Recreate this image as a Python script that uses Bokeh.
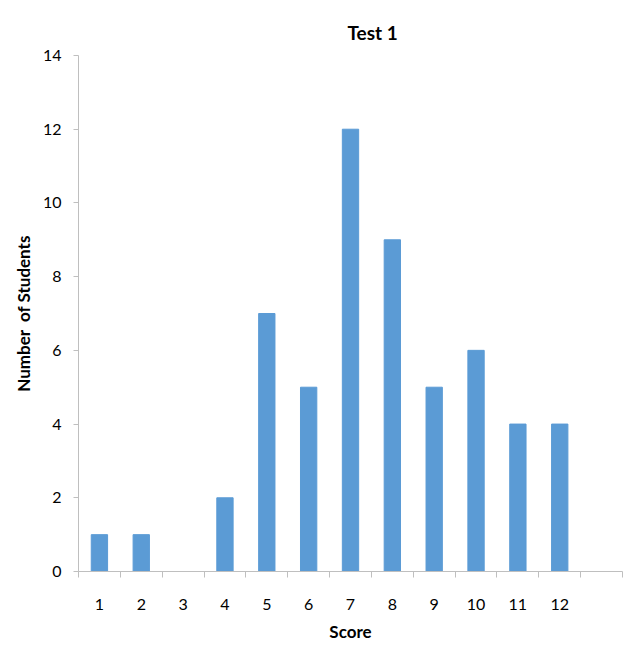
from bokeh.plotting import figure
from bokeh.models import FixedTicker, Range1d
from bokeh.embed import file_html
from bokeh.resources import INLINE

scores = [1, 2, 3, 4, 5, 6, 7, 8, 9, 10, 11, 12]
students = [1, 1, 0, 2, 7, 5, 12, 9, 5, 6, 4, 4]
y_ticks = [0, 2, 4, 6, 8, 10, 12, 14]
category_edges = [0.5 + i for i in range(14)]

FONT = "Lato"
AXIS_GRAY = "#BFBFBF"

p = figure(width=628, height=645, output_backend="svg", toolbar_location=None,
           x_range=Range1d(0.5, 13.5), y_range=Range1d(0, 14),
           min_border_left=78, min_border_right=6, min_border_top=55, min_border_bottom=74)

p.vbar(x=scores, top=students, width=0.39, color="#5B9BD5")

p.title.text = "Test 1"
p.title.align = "left"
p.title.text_font = FONT
p.title.text_font_size = "19px"
p.title.text_font_style = "bold"
p.title.text_color = "#000000"
p.title.offset = 269
p.title.standoff = 23

p.outline_line_color = None
p.xgrid.grid_line_color = None
p.ygrid.grid_line_color = None

xa = p.xaxis[0]
xa.ticker = FixedTicker(ticks=scores, minor_ticks=category_edges)
xa.axis_line_color = AXIS_GRAY
xa.major_tick_line_color = None
xa.minor_tick_line_color = AXIS_GRAY
xa.minor_tick_out = 6
xa.minor_tick_in = 0
xa.major_label_standoff = 21
xa.major_label_text_font = FONT
xa.major_label_text_font_size = "16px"
xa.major_label_text_color = "#000000"
xa.axis_label = "Score"
xa.axis_label_text_font = FONT
xa.axis_label_text_font_size = "17px"
xa.axis_label_text_font_style = "bold"
xa.axis_label_text_color = "#000000"
xa.axis_label_standoff = 8

ya = p.yaxis[0]
ya.ticker = FixedTicker(ticks=y_ticks, minor_ticks=[])
ya.axis_line_color = AXIS_GRAY
ya.major_tick_line_color = AXIS_GRAY
ya.major_tick_out = 5
ya.major_tick_in = 0
ya.major_label_standoff = 12
ya.major_label_text_font = FONT
ya.major_label_text_font_size = "16px"
ya.major_label_text_color = "#000000"
ya.axis_label = "Number\u00a0 of Students"
ya.axis_label_text_font = FONT
ya.axis_label_text_font_size = "17px"
ya.axis_label_text_font_style = "bold"
ya.axis_label_text_color = "#000000"
ya.axis_label_standoff = 6

open("out.html", "w").write(file_html(p, INLINE))
